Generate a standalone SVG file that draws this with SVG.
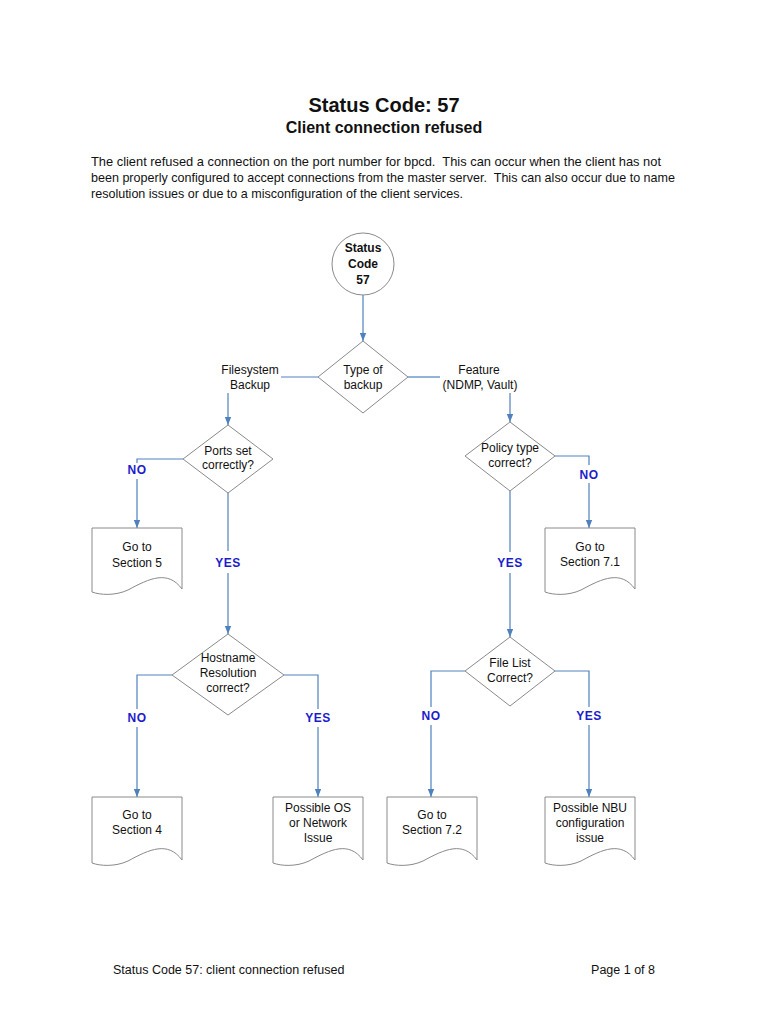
<svg xmlns="http://www.w3.org/2000/svg" width="768" height="1024" viewBox="0 0 768 1024">
<style>
text{font-family:"Liberation Sans",Arial,sans-serif;fill:#111}
.t{font-size:12px;text-anchor:middle}
.b{font-weight:bold}
.lab{font-size:12px;font-weight:bold;fill:#1c1ccc;text-anchor:middle;letter-spacing:0.5px}
.shape{fill:#fff;stroke:#8a8a8a;stroke-width:1}
.con{fill:none;stroke:#4f81bd;stroke-width:1.2}
.arr{marker-end:url(#ah)}
.body{font-size:13px}
.foot{font-size:12.5px}
</style>
<defs>
<marker id="ah" viewBox="0 0 10 10" refX="10" refY="5" markerWidth="8" markerHeight="8" markerUnits="userSpaceOnUse" orient="auto">
<path d="M0,1 L10,5 L0,9 Z" fill="#4f81bd"/>
</marker>
</defs>
<rect width="768" height="1024" fill="#fff"/>
<g id="header">
<text x="384" y="112" class="b" style="font-size:20px;text-anchor:middle">Status Code: 57</text>
<text x="384" y="133" class="b" style="font-size:16px;text-anchor:middle">Client connection refused</text>
<text x="91" y="166" class="body" xml:space="preserve" textLength="570" lengthAdjust="spacingAndGlyphs">The client refused a connection on the port number for bpcd.  This can occur when the client has not</text>
<text x="91" y="182" class="body" xml:space="preserve" textLength="584" lengthAdjust="spacingAndGlyphs">been properly configured to accept connections from the master server.  This can also occur due to name</text>
<text x="91" y="198" class="body" textLength="372" lengthAdjust="spacingAndGlyphs">resolution issues or due to a misconfiguration of the client services.</text>
</g>
<g id="connectors">
<path class="con arr" d="M363,295 V341"/>
<path class="con" d="M318,377 H281"/>
<path class="con" d="M408,377 H440"/>
<path class="con arr" d="M228,393 V425"/>
<path class="con arr" d="M510,393 V422"/>
<path class="con" d="M183,459 H137 V463"/>
<path class="con arr" d="M137,479 V528"/>
<path class="con" d="M228,493 V551"/>
<path class="con arr" d="M228,573 V634"/>
<path class="con" d="M555,456 H589 V465"/>
<path class="con arr" d="M589,483 V528"/>
<path class="con" d="M510,491 V552"/>
<path class="con arr" d="M510,573 V637"/>
<path class="con" d="M172,675 H137 V709"/>
<path class="con arr" d="M137,727 V797"/>
<path class="con" d="M284,675 H318 V709"/>
<path class="con arr" d="M318,727 V797"/>
<path class="con" d="M465,671 H431 V707"/>
<path class="con arr" d="M431,725 V797"/>
<path class="con" d="M555,671 H589 V707"/>
<path class="con arr" d="M589,725 V797"/>
</g>
<g id="labels">
<text class="t" x="250" y="374">Filesystem</text>
<text class="t" x="250" y="389">Backup</text>
<text class="t" x="479" y="374">Feature</text>
<text class="t" x="480" y="389">(NDMP, Vault)</text>
<text class="lab" x="137" y="474">NO</text>
<text class="lab" x="228" y="567">YES</text>
<text class="lab" x="589" y="479">NO</text>
<text class="lab" x="510" y="567">YES</text>
<text class="lab" x="137" y="722">NO</text>
<text class="lab" x="318" y="722">YES</text>
<text class="lab" x="431" y="720">NO</text>
<text class="lab" x="589" y="720">YES</text>
</g>
<g id="start">
<circle class="shape" cx="363" cy="264" r="31"/>
<text class="t b" x="363" y="252">Status</text>
<text class="t b" x="363" y="268">Code</text>
<text class="t b" x="363" y="284">57</text>
</g>
<g id="type-of-backup">
<polygon class="shape" points="363,341 408,377 363,413 318,377"/>
<text class="t" x="363" y="374">Type of</text>
<text class="t" x="363" y="389">backup</text>
</g>
<g id="ports">
<polygon class="shape" points="228,425 273,459 228,493 183,459"/>
<text class="t" x="228" y="455">Ports set</text>
<text class="t" x="228" y="469">correctly?</text>
</g>
<g id="section5">
<path class="shape" d="M92,528 H182 V589 C168,570 150,578 128,590 C115,596 100,595 92,592 Z"/>
<text class="t" x="137" y="551">Go to</text>
<text class="t" x="137" y="567">Section 5</text>
</g>
<g id="policy">
<polygon class="shape" points="510,422 555,456 510,491 465,456"/>
<text class="t" x="510" y="452">Policy type</text>
<text class="t" x="510" y="467">correct?</text>
</g>
<g id="section71">
<path class="shape" d="M545,528 H635 V589 C621,570 603,578 581,590 C568,596 553,595 545,592 Z"/>
<text class="t" x="590" y="551">Go to</text>
<text class="t" x="590" y="566">Section 7.1</text>
</g>
<g id="hostname">
<polygon class="shape" points="228,634 284,675 228,715 172,675"/>
<text class="t" x="228" y="662">Hostname</text>
<text class="t" x="228" y="677">Resolution</text>
<text class="t" x="228" y="692">correct?</text>
</g>
<g id="section4">
<path class="shape" d="M92,797 H182 V860 C168,841 150,849 128,861 C115,867 100,866 92,863 Z"/>
<text class="t" x="137" y="819">Go to</text>
<text class="t" x="137" y="834">Section 4</text>
</g>
<g id="os-network">
<path class="shape" d="M273,797 H363 V860 C349,841 331,849 309,861 C296,867 281,866 273,863 Z"/>
<text class="t" x="318" y="812">Possible OS</text>
<text class="t" x="318" y="827">or Network</text>
<text class="t" x="318" y="842">Issue</text>
</g>
<g id="filelist">
<polygon class="shape" points="510,637 555,671 510,706 465,671"/>
<text class="t" x="510" y="667">File List</text>
<text class="t" x="510" y="682">Correct?</text>
</g>
<g id="section72">
<path class="shape" d="M387,797 H477 V860 C463,841 445,849 423,861 C410,867 395,866 387,863 Z"/>
<text class="t" x="432" y="819">Go to</text>
<text class="t" x="432" y="834">Section 7.2</text>
</g>
<g id="nbu">
<path class="shape" d="M545,797 H635 V860 C621,841 603,849 581,861 C568,867 553,866 545,863 Z"/>
<text class="t" x="590" y="812">Possible NBU</text>
<text class="t" x="590" y="827">configuration</text>
<text class="t" x="590" y="842">issue</text>
</g>
<g id="footer">
<text x="113" y="974" class="foot">Status Code 57: client connection refused</text>
<text x="655" y="974" class="foot" style="text-anchor:end">Page 1 of 8</text>
</g>
</svg>
